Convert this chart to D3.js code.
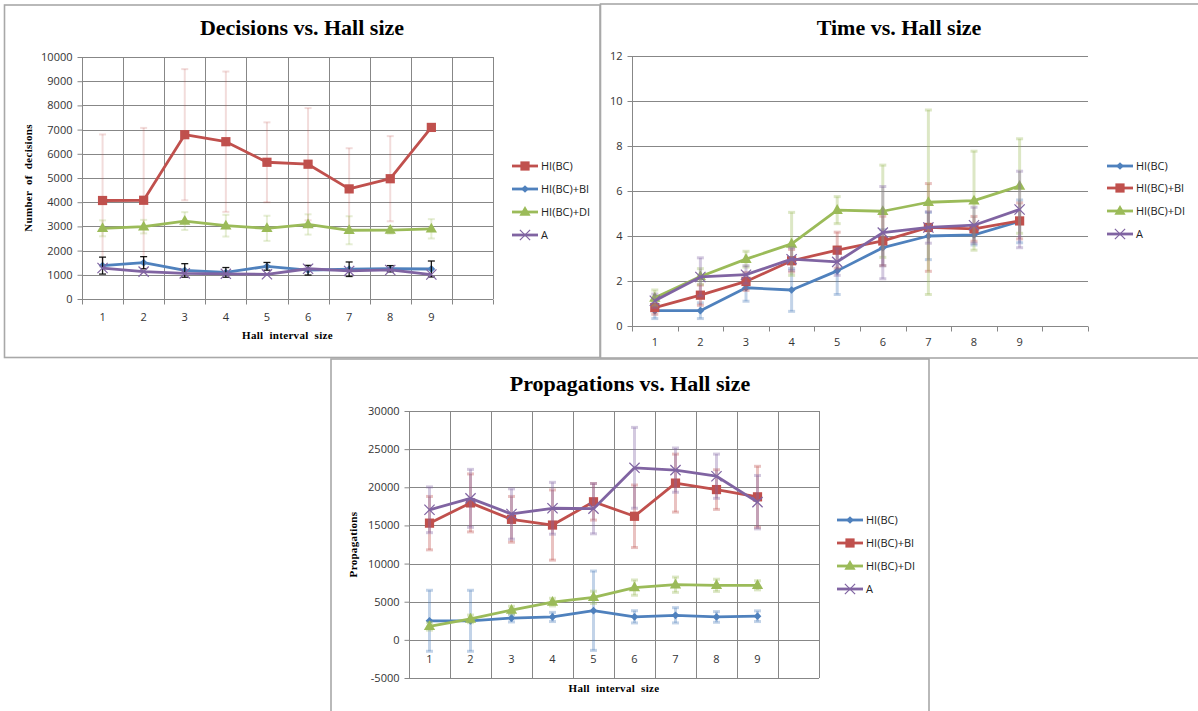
<!DOCTYPE html>
<html>
<head>
<meta charset="utf-8">
<script src="https://cdn.jsdelivr.net/npm/d3@7"></script>
<style>
  body { margin: 0; background: #fff; }
  svg { display: block; }
</style>
</head>
<body>
<svg id="chart" width="1198" height="711"></svg>
<script>
// ---- Categories (hall interval size); each axis keeps one empty slot at the end ----
const categories = ['1', '2', '3', '4', '5', '6', '7', '8', '9'];
const slots = [...categories, '10'];

// ---- Decisions vs. Hall size ----
const decHI    = [4070, 4080, 6790, 6500, 5650, 5570, 4550, 4970, 7090];
const decHIErr = [2730, 2990, 2710, 2900, 1650, 2320, 1680, 1760, null];
const decBI    = [1380, 1500, 1180, 1100, 1350, 1190, 1230, 1250, 1240];
const decBIErr = [350, 250, 280, 200, 160, 200, 300, 130, 330];
const decDI    = [2920, 2990, 3220, 3030, 2920, 3080, 2840, 2850, 2900];
const decDIErr = [330, 280, 370, 450, 520, 420, 580, 150, 400];
const decA     = [1280, 1130, 1060, 1040, 1020, 1250, 1160, 1200, 1010];
const decTicks = [0, 1000, 2000, 3000, 4000, 5000, 6000, 7000, 8000, 9000, 10000];

// ---- Time vs. Hall size ----
const timeHI     = [0.68, 0.68, 1.70, 1.60, 2.45, 3.48, 4.00, 4.05, 4.65];
const timeHIErr  = [0.35, 0.35, 0.60, 0.95, 1.05, 0.80, 1.05, 0.45, 0.95];
const timeBI     = [0.82, 1.37, 1.98, 2.90, 3.37, 3.78, 4.38, 4.32, 4.67];
const timeBIErr  = [0.30, 0.45, 0.40, 0.50, 0.80, 1.10, 1.95, 0.55, 0.80];
const timeDI     = [1.25, 2.20, 2.97, 3.65, 5.15, 5.10, 5.50, 5.57, 6.22];
const timeDIErr  = [0.35, 0.35, 0.35, 1.40, 0.60, 2.05, 4.10, 2.20, 2.10];
const timeA      = [1.12, 2.18, 2.28, 2.97, 2.85, 4.15, 4.38, 4.48, 5.18];
const timeAErr   = [0.30, 0.85, 0.40, 0.50, 0.60, 2.05, 0.70, 0.80, 1.70];
const timeTicks  = [0, 2, 4, 6, 8, 10, 12];

// ---- Propagations vs. Hall size ----
const propHI     = [2500, 2500, 2850, 3000, 3820, 3020, 3220, 3000, 3100];
const propHIErr  = [4000, 4000, 500, 600, 5200, 800, 1000, 700, 700];
const propBI     = [15300, 17950, 15800, 15050, 18100, 16200, 20550, 19700, 18750];
const propBIErr  = [3500, 3800, 3000, 4600, 2400, 4100, 3800, 2600, 4000];
const propDI     = [1780, 2750, 3900, 4950, 5580, 6850, 7230, 7150, 7150];
const propDIErr  = [500, 500, 500, 500, 800, 1000, 1000, 800, 600];
const propA      = [17050, 18550, 16500, 17250, 17200, 22550, 22250, 21450, 18050];
const propAErr   = [3000, 3800, 3300, 3400, 3300, 5300, 2900, 2900, 3500];
const propTicks  = [-5000, 0, 5000, 10000, 15000, 20000, 25000, 30000];

const BLUE = '#4f81bd', RED = '#c0504d', GREEN = '#9bbb59', PURPLE = '#8064a2';
const SANS = '"Open Sans", "Liberation Sans", sans-serif';
const SERIF = '"Liberation Serif", "Times New Roman", serif';

const svg = d3.select('#chart');

// Marker glyphs for each series style
function drawMarker(g, kind, color, cx, cy) {
  if (kind === 'square') {
    g.append('path').attr('d', d3.symbol(d3.symbolSquare, 85)())
      .attr('transform', `translate(${cx},${cy})`).attr('fill', color);
  } else if (kind === 'diamond') {
    g.append('path').attr('d', d3.symbol(d3.symbolSquare, 30)())
      .attr('transform', `translate(${cx},${cy}) rotate(45)`).attr('fill', color);
  } else if (kind === 'triangle') {
    g.append('path').attr('d', d3.symbol(d3.symbolTriangle, 55)())
      .attr('transform', `translate(${cx},${cy + 0.5})`).attr('fill', color);
  } else if (kind === 'x') {
    g.append('path').attr('d', d3.symbol(d3.symbolX, 70)())
      .attr('transform', `translate(${cx},${cy})`)
      .attr('fill', 'none').attr('stroke', color).attr('stroke-width', 1.2);
  }
}

function drawPanel(cfg) {
  const g = svg.append('g');

  // frame
  g.append('rect')
    .attr('x', cfg.frame[0]).attr('y', cfg.frame[1])
    .attr('width', cfg.frame[2] - cfg.frame[0]).attr('height', cfg.frame[3] - cfg.frame[1])
    .attr('fill', '#fff').attr('stroke', '#a8a8a8').attr('stroke-width', 1.6);

  // title
  g.append('text').attr('x', cfg.titleX).attr('y', cfg.titleY)
    .attr('text-anchor', 'middle')
    .style('font-family', SERIF).style('font-weight', 'bold').style('font-size', '22px')
    .attr('fill', '#000').text(cfg.title);

  const x = d3.scaleBand().domain(slots).range([cfg.left, cfg.right]);
  const y = d3.scaleLinear().domain(cfg.yDomain).range([cfg.bottom, cfg.top]);
  const cx = c => x(c) + x.bandwidth() / 2;

  // horizontal gridlines
  g.append('g').selectAll('line').data(cfg.yTicks.filter(t => cfg.gridAtBase || t !== cfg.yDomain[0]))
    .join('line')
    .attr('x1', cfg.left).attr('x2', cfg.right)
    .attr('y1', d => Math.round(y(d)) + 0.5).attr('y2', d => Math.round(y(d)) + 0.5)
    .attr('stroke', '#878787').attr('stroke-width', 1);

  // vertical gridlines at category boundaries
  if (cfg.vGrid) {
    const bounds = slots.map(s => x(s)).concat([cfg.right]);
    g.append('g').selectAll('line').data(bounds.slice(1)).join('line')
      .attr('x1', d => Math.round(d) + 0.5).attr('x2', d => Math.round(d) + 0.5)
      .attr('y1', cfg.top).attr('y2', cfg.bottom)
      .attr('stroke', '#878787').attr('stroke-width', 1);
  }

  // value axis
  const yAxis = g.append('g')
    .attr('transform', `translate(${Math.round(cfg.left) + 0.5},0)`)
    .call(d3.axisLeft(y).tickValues(cfg.yTicks).tickSize(5).tickPadding(5).tickFormat(d => String(d)));
  yAxis.select('.domain').remove();
  yAxis.selectAll('line').attr('stroke', '#878787');
  yAxis.selectAll('text').style('font-family', SANS).style('font-size', '11px').attr('fill', '#333');
  g.append('line')
    .attr('x1', Math.round(cfg.left) + 0.5).attr('x2', Math.round(cfg.left) + 0.5)
    .attr('y1', cfg.top).attr('y2', cfg.bottom)
    .attr('stroke', '#878787');

  // category axis: baseline, boundary ticks, labels
  const baseY = Math.round(y(cfg.yDomain[0])) + 0.5;
  g.append('line').attr('x1', cfg.left).attr('x2', cfg.right)
    .attr('y1', baseY).attr('y2', baseY).attr('stroke', '#878787');
  if (cfg.xTicks) {
    const bounds = slots.map(s => x(s)).concat([cfg.right]);
    g.append('g').selectAll('line').data(bounds).join('line')
      .attr('x1', d => Math.round(d) + 0.5).attr('x2', d => Math.round(d) + 0.5)
      .attr('y1', baseY).attr('y2', baseY + 5)
      .attr('stroke', '#878787');
  }
  const xAxis = g.append('g')
    .attr('transform', `translate(0,${y(cfg.labelAt)})`)
    .call(d3.axisBottom(x).tickValues(categories).tickSize(0).tickPadding(cfg.xPad));
  xAxis.select('.domain').remove();
  xAxis.selectAll('text').style('font-family', SANS).style('font-size', '11px').attr('fill', '#333');

  // axis titles
  if (cfg.xTitle) {
    g.append('text').attr('x', (cfg.left + cfg.right) / 2).attr('y', cfg.xTitleY)
      .attr('text-anchor', 'middle')
      .style('font-family', SERIF).style('font-weight', 'bold').style('font-size', '11px')
      .style('letter-spacing', '0.3px').style('word-spacing', '3px')
      .text(cfg.xTitle);
  }
  if (cfg.yTitle) {
    g.append('text')
      .attr('transform', `translate(${cfg.yTitleX},${(cfg.top + cfg.bottom) / 2}) rotate(-90)`)
      .attr('text-anchor', 'middle')
      .style('font-family', SERIF).style('font-weight', 'bold').style('font-size', '11px')
      .style('letter-spacing', '0.3px').style('word-spacing', '3px')
      .text(cfg.yTitle);
  }

  // series
  const line = d3.line().x((d, i) => cx(categories[i])).y(d => y(d));
  cfg.series.forEach(s => {
    const sg = g.append('g');
    sg.append('path').datum(s.values).attr('d', line)
      .attr('fill', 'none').attr('stroke', s.color).attr('stroke-width', 2.8)
      .attr('stroke-linejoin', 'round');
    s.values.forEach((v, i) => drawMarker(sg, s.marker, s.color, cx(categories[i]), y(v)));
    if (s.err) {
      const eg = sg.append('g')
        .attr('stroke', s.errColor).attr('stroke-width', s.errWidth)
        .attr('stroke-opacity', s.errOpacity);
      s.values.forEach((v, i) => {
        const e = s.err[i];
        if (e == null) return;
        const px = cx(categories[i]);
        const y1 = y(v + e), y2 = y(v - e);
        eg.append('line').attr('x1', px).attr('x2', px).attr('y1', y1).attr('y2', y2);
        eg.append('line').attr('x1', px - 3.5).attr('x2', px + 3.5).attr('y1', y1).attr('y2', y1);
        eg.append('line').attr('x1', px - 3.5).attr('x2', px + 3.5).attr('y1', y2).attr('y2', y2);
      });
    }
  });

  // legend
  const lg = g.append('g');
  cfg.series.forEach((s, i) => {
    const ly = cfg.legendY[i];
    lg.append('line').attr('x1', cfg.legendX).attr('x2', cfg.legendX + 26)
      .attr('y1', ly).attr('y2', ly).attr('stroke', s.color).attr('stroke-width', 2.8);
    drawMarker(lg, s.marker, s.color, cfg.legendX + 13, ly);
    lg.append('text').attr('x', cfg.legendX + 29).attr('y', ly).attr('dy', '0.35em')
      .style('font-family', SANS).style('font-size', '11px').attr('fill', '#222')
      .text(s.name);
  });
}

// Decisions
drawPanel({
  frame: [4.5, 5, 600, 357.5],
  title: 'Decisions vs. Hall size', titleX: 302, titleY: 35,
  left: 82, right: 493, top: 57, bottom: 299,
  yDomain: [0, 10000], yTicks: decTicks, gridAtBase: true, vGrid: true, xTicks: true,
  labelAt: 0, xPad: 14,
  xTitle: 'Hall interval size', xTitleY: 339,
  yTitle: 'Number of decisions', yTitleX: 32,
  legendX: 512, legendY: [166, 189, 212, 235],
  series: [
    { name: 'HI(BC)', values: decHI, err: decHIErr, color: RED, marker: 'square',
      errColor: RED, errWidth: 2, errOpacity: 0.2 },
    { name: 'HI(BC)+BI', values: decBI, err: decBIErr, color: BLUE, marker: 'diamond',
      errColor: '#000', errWidth: 1.3, errOpacity: 0.9 },
    { name: 'HI(BC)+DI', values: decDI, err: decDIErr, color: GREEN, marker: 'triangle',
      errColor: GREEN, errWidth: 2, errOpacity: 0.25 },
    { name: 'A', values: decA, err: null, color: PURPLE, marker: 'x' }
  ]
});

// Time
drawPanel({
  frame: [600.5, 4, 1205, 358],
  title: 'Time vs. Hall size', titleX: 899, titleY: 35,
  left: 632, right: 1088, top: 56, bottom: 326,
  yDomain: [0, 12], yTicks: timeTicks, gridAtBase: false, vGrid: false, xTicks: true,
  labelAt: 0, xPad: 12,
  legendX: 1107, legendY: [166, 188, 211, 234],
  series: [
    { name: 'HI(BC)', values: timeHI, err: timeHIErr, color: BLUE, marker: 'diamond',
      errColor: BLUE, errWidth: 3, errOpacity: 0.35 },
    { name: 'HI(BC)+BI', values: timeBI, err: timeBIErr, color: RED, marker: 'square',
      errColor: RED, errWidth: 3, errOpacity: 0.35 },
    { name: 'HI(BC)+DI', values: timeDI, err: timeDIErr, color: GREEN, marker: 'triangle',
      errColor: GREEN, errWidth: 3, errOpacity: 0.35 },
    { name: 'A', values: timeA, err: timeAErr, color: PURPLE, marker: 'x',
      errColor: PURPLE, errWidth: 3, errOpacity: 0.35 }
  ]
});

// Propagations
drawPanel({
  frame: [331, 359, 929, 720],
  title: 'Propagations vs. Hall size', titleX: 630, titleY: 391,
  left: 409, right: 819, top: 411, bottom: 678,
  yDomain: [-5000, 30000], yTicks: propTicks, gridAtBase: true, vGrid: true, xTicks: false,
  labelAt: 0, xPad: 15,
  xTitle: 'Hall interval size', xTitleY: 692,
  yTitle: 'Propagations', yTitleX: 357,
  legendX: 837, legendY: [520, 543, 566, 589],
  series: [
    { name: 'HI(BC)', values: propHI, err: propHIErr, color: BLUE, marker: 'diamond',
      errColor: BLUE, errWidth: 3, errOpacity: 0.35 },
    { name: 'HI(BC)+BI', values: propBI, err: propBIErr, color: RED, marker: 'square',
      errColor: RED, errWidth: 3, errOpacity: 0.35 },
    { name: 'HI(BC)+DI', values: propDI, err: propDIErr, color: GREEN, marker: 'triangle',
      errColor: GREEN, errWidth: 3, errOpacity: 0.35 },
    { name: 'A', values: propA, err: propAErr, color: PURPLE, marker: 'x',
      errColor: PURPLE, errWidth: 3, errOpacity: 0.35 }
  ]
});
</script>
</body>
</html>
